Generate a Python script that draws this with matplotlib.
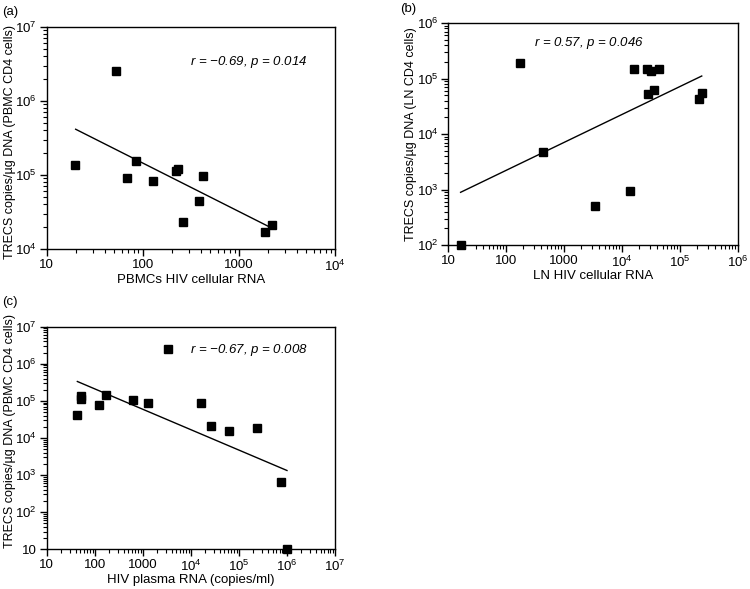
import math
import matplotlib
matplotlib.use('Agg')
import matplotlib.pyplot as plt
from matplotlib.ticker import FuncFormatter, LogLocator, NullFormatter

plt.rcParams['font.family'] = ['Liberation Sans', 'DejaVu Sans']
plt.rcParams['mathtext.fontset'] = 'custom'
plt.rcParams['mathtext.rm'] = 'Liberation Sans'
plt.rcParams['mathtext.it'] = 'Liberation Sans:italic'

# (a) PBMC cellular RNA vs TRECs
a_x = [19.9, 52.6, 85, 68.5, 128, 222, 232, 426, 387, 264, 1870, 2190]
a_y = [1.36e5, 2.54e6, 1.55e5, 9.2e4, 8.2e4, 1.14e5, 1.19e5, 9.6e4, 4.45e4, 2.34e4, 1.68e4, 2.11e4]
a_fit_x = [20, 2057]
a_fit_y = [4.15e5, 2.0e4]

# (b) LN cellular RNA vs TRECs
b_x = [16.5, 174, 429, 3470, 13700, 16300, 26700, 31200, 44000, 28400, 35600, 2.13e5, 2.43e5]
b_y = [100, 1.93e5, 4.8e3, 510, 927, 1.5e5, 1.5e5, 1.35e5, 1.5e5, 5.26e4, 6.3e4, 4.33e4, 5.48e4]
b_fit_x = [16.5, 2.37e5]
b_fit_y = [891, 1.11e5]

# (c) plasma RNA vs TRECs
c_x = [42.2, 51, 51, 125, 169, 619, 1270, 3410, 16150, 26500, 60700, 2.33e5, 7.6e5, 1.0e6]
c_y = [4.08e4, 1.36e5, 1.12e5, 7.6e4, 1.45e5, 1.04e5, 8.6e4, 2.54e6, 8.8e4, 2.11e4, 1.55e4, 1.9e4, 640, 10]
c_fit_x = [43.4, 1.0e6]
c_fit_y = [3.33e5, 1330]


def x_fmt(v, pos):
    # x axes print 10, 100, 1000 in full
    if v in (10, 100, 1000):
        return '%d' % v
    return r'$10^{%d}$' % int(round(math.log10(v)))


def y_fmt(v, pos):
    # y axes print only 10 in full
    if v == 10:
        return '10'
    return r'$10^{%d}$' % int(round(math.log10(v)))


def setup(ax, xlim, ylim, xlabel, ylabel, ylab_y=0.5):
    ax.set_xscale('log')
    ax.set_yscale('log')
    ax.set_xlim(*xlim)
    ax.set_ylim(*ylim)
    ax.xaxis.set_major_locator(LogLocator(base=10, numticks=20))
    ax.yaxis.set_major_locator(LogLocator(base=10, numticks=20))
    ax.xaxis.set_minor_locator(LogLocator(base=10, subs=range(2, 10), numticks=20))
    ax.yaxis.set_minor_locator(LogLocator(base=10, subs=range(2, 10), numticks=20))
    ax.xaxis.set_major_formatter(FuncFormatter(x_fmt))
    ax.yaxis.set_major_formatter(FuncFormatter(y_fmt))
    ax.xaxis.set_minor_formatter(NullFormatter())
    ax.yaxis.set_minor_formatter(NullFormatter())
    ax.tick_params(which='major', direction='out', length=5, width=1, labelsize=9.5, pad=2,
                   top=False, right=False)
    ax.tick_params(which='minor', direction='out', length=3, width=0.8, top=False, right=False)
    ax.set_xlabel(xlabel, fontsize=9.5, labelpad=0)
    ax.set_ylabel(ylabel, fontsize=9, va='center')
    ax.yaxis.set_label_coords(-0.128, ylab_y)
    for s in ax.spines.values():
        s.set_linewidth(1)


fig = plt.figure(figsize=(7.5, 5.89), dpi=100)

ax_a = fig.add_axes([0.0623, 0.5773, 0.3844, 0.3769])
ax_a.plot(a_x, a_y, 's', color='black', markersize=5.5, clip_on=False)
ax_a.plot(a_fit_x, a_fit_y, '-', color='black', linewidth=1)
setup(ax_a, (10, 1e4), (1e4, 1e7), 'PBMCs HIV cellular RNA',
      'TRECS copies/µg DNA (PBMC CD4 cells)', 0.48)
ax_a.text(0.7, 0.84, r'$r$ = −0.69, $p$ = 0.014', transform=ax_a.transAxes,
          ha='center', va='center', fontsize=9.5, style='italic')

ax_b = fig.add_axes([0.5973, 0.584, 0.3867, 0.3769])
ax_b.plot(b_x, b_y, 's', color='black', markersize=5.5, clip_on=False)
ax_b.plot(b_fit_x, b_fit_y, '-', color='black', linewidth=1)
setup(ax_b, (10, 1e6), (1e2, 1e6), 'LN HIV cellular RNA',
      'TRECS copies/µg DNA (LN CD4 cells)')
ax_b.text(0.485, 0.91, r'$r$ = 0.57, $p$ = 0.046', transform=ax_b.transAxes,
          ha='center', va='center', fontsize=9.5, style='italic')

ax_c = fig.add_axes([0.0623, 0.0674, 0.3844, 0.378])
ax_c.plot(c_x, c_y, 's', color='black', markersize=5.5, clip_on=False)
ax_c.plot(c_fit_x, c_fit_y, '-', color='black', linewidth=1)
setup(ax_c, (10, 1e7), (10, 1e7), 'HIV plasma RNA (copies/ml)',
      'TRECS copies/µg DNA (PBMC CD4 cells)', 0.53)
ax_c.text(0.7, 0.897, r'$r$ = −0.67, $p$ = 0.008', transform=ax_c.transAxes,
          ha='center', va='center', fontsize=9.5, style='italic')

fig.text(0.003, 0.99, '(a)', fontsize=9.5, va='top')
fig.text(0.533, 0.995, '(b)', fontsize=9.5, va='top')
fig.text(0.003, 0.498, '(c)', fontsize=9.5, va='top')

fig.savefig('out.png', dpi=100, facecolor='white')
plt.close(fig)
